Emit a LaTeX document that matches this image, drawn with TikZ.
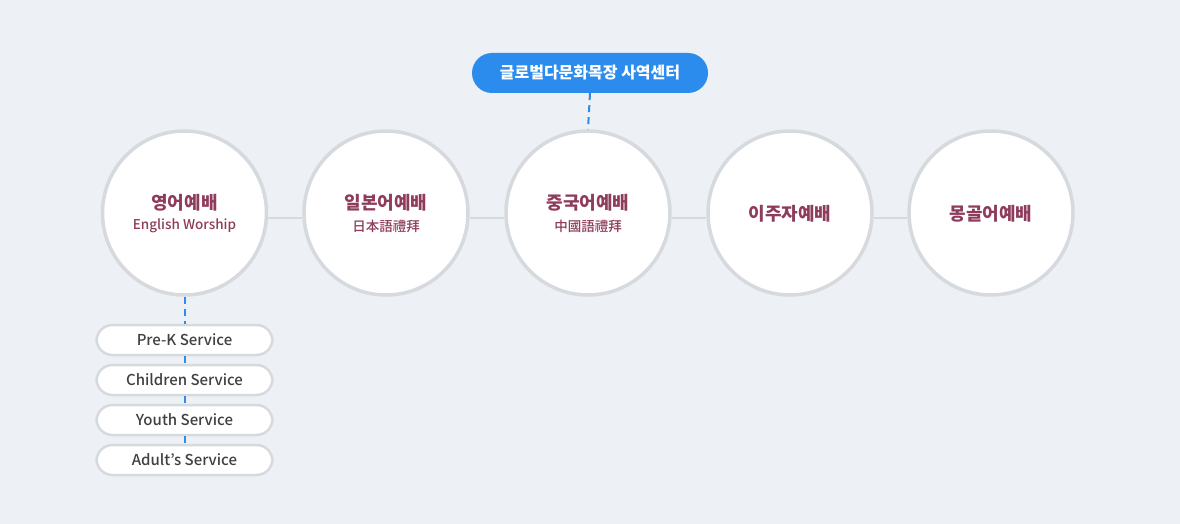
\documentclass[tikz,border=0pt]{standalone}
\usepackage{fontspec}
\setmainfont{Noto Sans CJK KR}
\newfontfamily\kr{Noto Sans CJK KR}
\newfontfamily\krm{Noto Sans CJK KR Medium}
\usetikzlibrary{calc}
\definecolor{bgc}{HTML}{EDF0F5}
\definecolor{ringc}{HTML}{D6DADF}
\definecolor{titlec}{HTML}{8E3B5C}
\definecolor{bluec}{HTML}{2B8CEE}
\definecolor{svc}{HTML}{404040}
\tikzset{
  worship/.style={circle, draw=ringc, line width=3.5pt, fill=white, minimum size=164pt, inner sep=0pt},
  ttl/.style={text=titlec, font=\kr\bfseries\fontsize{18}{20}\selectfont, inner sep=0pt},
  sub/.style={text=titlec, font=\krm\fontsize{13.5}{15}\selectfont, inner sep=0pt},
  link/.style={draw=ringc, line width=2pt},
  bluedash/.style={draw=bluec, line width=2pt, dash pattern=on 7pt off 5pt},
  svcbox/.style={rounded corners=16pt, draw=ringc, line width=2.5pt, fill=white, minimum width=176pt, minimum height=30pt, text=svc, font=\krm\fontsize{15}{17}\selectfont, inner sep=0pt},
  pill/.style={rounded corners=20pt, fill=bluec, minimum width=236pt, minimum height=40pt, text=white, font=\kr\bfseries\fontsize{16}{18}\selectfont, inner sep=0pt}
}
\begin{document}
\begin{tikzpicture}[x=1pt,y=-1pt]
\fill[bgc] (0,0) rectangle (1180,524);
\useasboundingbox (0,0) rectangle (1180,524);
% circles
\node[worship] (c1) at (184.5,213) {};
\node[worship] (c2) at (386,213) {};
\node[worship] (c3) at (588,213) {};
\node[worship] (c4) at (790,213) {};
\node[worship] (c5) at (991,213) {};
% connectors
\draw[link] ([yshift=-5pt]c1.east) -- ([yshift=-5pt]c2.west);
\draw[link] ([yshift=-5pt]c2.east) -- ([yshift=-5pt]c3.west);
\draw[link] ([yshift=-5pt]c3.east) -- ([yshift=-5pt]c4.west);
\draw[link] ([yshift=-5pt]c4.east) -- ([yshift=-5pt]c5.west);
% labels
\node[ttl] (t1) at (184.5,203) {영어예배};
\node[sub] (s1) at (184.5,226) {English Worship};
\node[ttl] (t2) at (386,203) {일본어예배};
\node[sub] (s2) at (386,226) {日本語禮拜};
\node[ttl] (t3) at (588,203) {중국어예배};
\node[sub] (s3) at (588,226) {中國語禮拜};
\node[ttl] (t4) at (790,214) {이주자예배};
\node[ttl] (t5) at (991,214) {몽골어예배};
% top pill
\node[pill] (p) at (590,73) {글로벌다문화목장 사역센터};
\draw[bluedash] (p.south) -- (c3.north);
% service boxes
\node[svcbox] (b1) at (184.5,340) {Pre-K Service};
\node[svcbox] (b2) at (184.5,380) {Children Service};
\node[svcbox] (b3) at (184.5,420) {Youth Service};
\node[svcbox] (b4) at (184.5,460) {Adult’s Service};
\draw[bluedash] (c1.south) -- (b1.north);
\draw[bluedash] (b1.south) -- (b2.north);
\draw[bluedash] (b2.south) -- (b3.north);
\draw[bluedash] (b3.south) -- (b4.north);
\end{tikzpicture}
\end{document}
